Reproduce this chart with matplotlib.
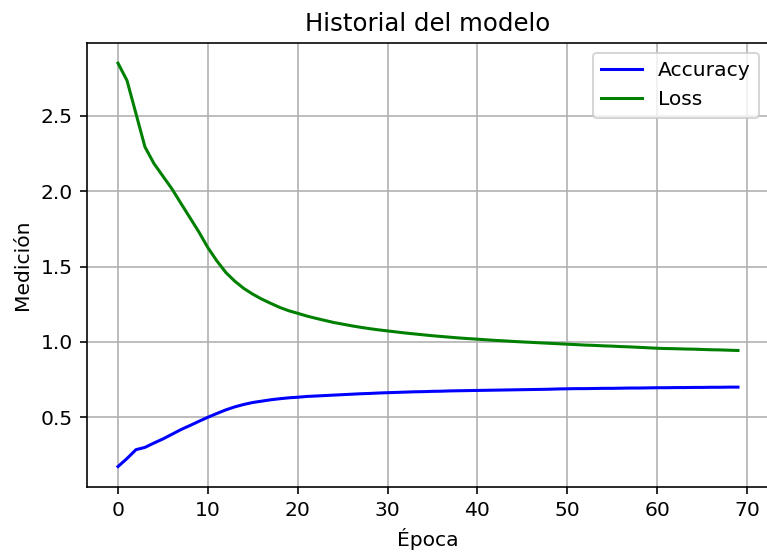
import matplotlib
matplotlib.use("Agg")
import matplotlib.pyplot as plt

epochs = list(range(70))
accuracy = [0.173, 0.226, 0.285, 0.300, 0.329, 0.356, 0.387, 0.418, 0.445, 0.473,
            0.500, 0.525, 0.549, 0.569, 0.585, 0.598, 0.607, 0.616, 0.623, 0.629,
            0.633, 0.638, 0.641, 0.644, 0.647, 0.650, 0.653, 0.656, 0.658, 0.661,
            0.663, 0.665, 0.667, 0.669, 0.670, 0.672, 0.673, 0.675, 0.676, 0.677,
            0.678, 0.679, 0.680, 0.681, 0.682, 0.683, 0.684, 0.685, 0.686, 0.688,
            0.689, 0.690, 0.690, 0.691, 0.692, 0.692, 0.693, 0.694, 0.694, 0.695,
            0.696, 0.696, 0.697, 0.697, 0.698, 0.698, 0.699, 0.699, 0.700, 0.700]
loss = [2.850, 2.735, 2.515, 2.294, 2.184, 2.100, 2.016, 1.920, 1.825, 1.730,
        1.626, 1.538, 1.461, 1.403, 1.355, 1.317, 1.284, 1.256, 1.229, 1.207,
        1.190, 1.172, 1.157, 1.143, 1.129, 1.118, 1.107, 1.097, 1.088, 1.080,
        1.073, 1.066, 1.059, 1.053, 1.047, 1.041, 1.036, 1.031, 1.026, 1.022,
        1.018, 1.014, 1.010, 1.007, 1.003, 1.000, 0.997, 0.994, 0.991, 0.988,
        0.985, 0.982, 0.979, 0.977, 0.974, 0.972, 0.969, 0.967, 0.964, 0.961,
        0.958, 0.956, 0.955, 0.953, 0.952, 0.950, 0.948, 0.947, 0.945, 0.943]

DPI = 146
fig = plt.figure(figsize=(767/DPI, 557/DPI), dpi=DPI)
ax = fig.add_axes([87/767, 1 - 486.7/557, (769 - 87)/767, (486.7 - 43)/557])
ax.plot(epochs, accuracy, color="blue", label="Accuracy")
ax.plot(epochs, loss, color="green", label="Loss")
ax.set_title("Historial del modelo")
ax.set_xlabel("Época")
ax.set_ylabel("Medición")
ax.grid(True)
ax.legend(loc="upper right")
fig.savefig("out.png", dpi=DPI)
